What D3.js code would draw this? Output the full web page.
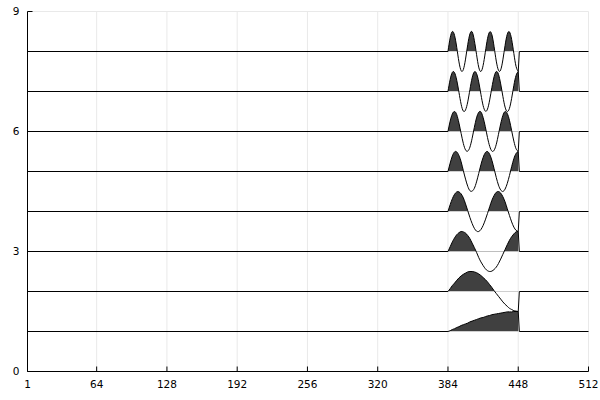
<!DOCTYPE html>
<html>
<head>
<meta charset="utf-8">
<script src="https://cdn.jsdelivr.net/npm/d3@7"></script>
<style>
  html, body { margin: 0; padding: 0; background: #fff; }
  svg { display: block; }
  text { font-family: "DejaVu Sans", sans-serif; font-size: 10.5px; fill: #000; }
</style>
</head>
<body>
<svg id="chart" width="600" height="400"></svg>
<script>
// ---- data ----
const xTicks = [1, 64, 128, 192, 256, 320, 384, 448, 512];
const yTicks = [0, 3, 6, 9];
const xStart = 1, xEnd = 512;
const waveX = [384,386,388,390,392,394,396,398,400,402,404,406,408,410,412,414,416,418,420,422,424,426,428,430,432,434,436,438,440,442,444,446,448];
const afterX = 449;
const offsets = [1, 2, 3, 4, 5, 6, 7, 8];
const wave1 = [0,.02,.05,.07,.10,.12,.15,.17,.19,.21,.24,.26,.28,.30,.32,.34,.35,.37,.39,.40,.42,.43,.44,.45,.46,.47,.48,.49,.49,.49,.50,.50,.50];
const wave2 = [0,.07,.15,.21,.28,.34,.39,.43,.46,.49,.50,.50,.49,.47,.44,.40,.35,.30,.24,.17,.10,.02,-.05,-.12,-.19,-.26,-.32,-.37,-.42,-.45,-.48,-.49,-.50];
const wave3 = [0,.12,.24,.34,.42,.47,.50,.49,.46,.40,.32,.21,.10,-.02,-.15,-.26,-.35,-.43,-.48,-.50,-.49,-.45,-.39,-.30,-.19,-.07,.05,.17,.28,.37,.44,.49,.50];
const wave4 = [0,.17,.32,.43,.49,.49,.44,.34,.19,.02,-.15,-.30,-.42,-.49,-.50,-.45,-.35,-.21,-.05,.12,.28,.40,.48,.50,.46,.37,.24,.07,-.10,-.26,-.39,-.47,-.50];
const wave5 = [0,.21,.39,.49,.49,.40,.24,.02,-.19,-.37,-.48,-.49,-.42,-.26,-.05,.17,.35,.47,.50,.43,.28,.07,-.15,-.34,-.46,-.50,-.44,-.30,-.10,.12,.32,.45,.50];
const wave6 = [0,.26,.44,.50,.42,.21,-.05,-.30,-.46,-.49,-.39,-.17,.10,.34,.48,.49,.35,.12,-.15,-.37,-.49,-.47,-.32,-.07,.19,.40,.50,.45,.28,.02,-.24,-.43,-.50];
const wave7 = [0,.30,.48,.47,.28,-.02,-.32,-.49,-.46,-.26,.05,.34,.49,.45,.24,-.07,-.35,-.49,-.44,-.21,.10,.37,.50,.43,.19,-.12,-.39,-.50,-.42,-.17,.15,.40,.50];
const wave8 = [0,.34,.50,.40,.10,-.26,-.48,-.45,-.19,.17,.44,.49,.28,-.07,-.39,-.50,-.35,-.02,.32,.49,.42,.12,-.24,-.47,-.46,-.21,.15,.43,.49,.30,-.05,-.37,-.50];
const waves = [wave1, wave2, wave3, wave4, wave5, wave6, wave7, wave8];

// ---- layout ----
const W = 600, H = 400;
const svg = d3.select("#chart");

const x = d3.scaleLinear().domain([1, 512]).range([27.5, 588.5]);
const y = d3.scaleLinear().domain([0, 9]).range([371.5, 11.5]);

// grid
const grid = svg.append("g").attr("stroke", "#e9e9e9").attr("stroke-width", 1);
grid.selectAll("line.gx").data(xTicks.filter(d => d !== 1)).join("line")
  .attr("x1", d => x(d)).attr("x2", d => x(d))
  .attr("y1", y(0)).attr("y2", y(9));
grid.selectAll("line.gy").data(yTicks.filter(d => d !== 0)).join("line")
  .attr("x1", x(1)).attr("x2", x(512))
  .attr("y1", d => y(d)).attr("y2", d => y(d));

// series
const defs = svg.append("defs");
offsets.forEach((off, i) => {
  const w = waves[i];
  const pts = waveX.map((xv, j) => [xv, off + w[j]]);
  const clipId = "clip" + i;
  defs.append("clipPath").attr("id", clipId)
    .append("rect")
    .attr("x", x(xStart)).attr("y", y(9) - 5)
    .attr("width", x(xEnd) - x(xStart))
    .attr("height", y(off) - (y(9) - 5));

  const area = d3.area()
    .x(d => x(d[0]))
    .y0(y(off))
    .y1(d => y(d[1]))
    .curve(d3.curveNatural);
  svg.append("path")
    .datum(pts)
    .attr("d", area)
    .attr("fill", "#404040")
    .attr("clip-path", `url(#${clipId})`);

  const lineLin = d3.line().x(d => x(d[0])).y(d => y(d[1]));
  const lineSmooth = d3.line().x(d => x(d[0])).y(d => y(d[1])).curve(d3.curveNatural);
  const g = svg.append("g").attr("fill", "none").attr("stroke", "#000").attr("stroke-width", 1);
  g.append("path").attr("d", lineLin([[xStart, off], [waveX[0], off]]));
  g.append("path").attr("d", lineSmooth(pts));
  g.append("path").attr("d", lineLin([[waveX[waveX.length - 1], off + w[w.length - 1]], [afterX, off], [xEnd, off]]));
});

// axes
const axisG = svg.append("g").attr("stroke", "#000").attr("stroke-width", 1).attr("fill", "none");
axisG.append("line").attr("x1", x(1)).attr("x2", x(1)).attr("y1", y(0)).attr("y2", y(9));
axisG.append("line").attr("x1", x(1)).attr("x2", x(512)).attr("y1", y(0)).attr("y2", y(0));
axisG.selectAll("line.tx").data(xTicks).join("line")
  .attr("x1", d => x(d)).attr("x2", d => x(d))
  .attr("y1", y(0)).attr("y2", y(0) - 5);
axisG.selectAll("line.ty").data(yTicks).join("line")
  .attr("x1", x(1)).attr("x2", x(1) + 5)
  .attr("y1", d => y(d)).attr("y2", d => y(d));

svg.append("g").selectAll("text").data(xTicks).join("text")
  .attr("x", d => x(d)).attr("y", y(0) + 16)
  .attr("text-anchor", "middle")
  .text(d => d);
svg.append("g").selectAll("text").data(yTicks).join("text")
  .attr("x", x(1) - 8).attr("y", d => y(d))
  .attr("dy", "0.35em")
  .attr("text-anchor", "end")
  .text(d => d);
</script>
</body>
</html>
